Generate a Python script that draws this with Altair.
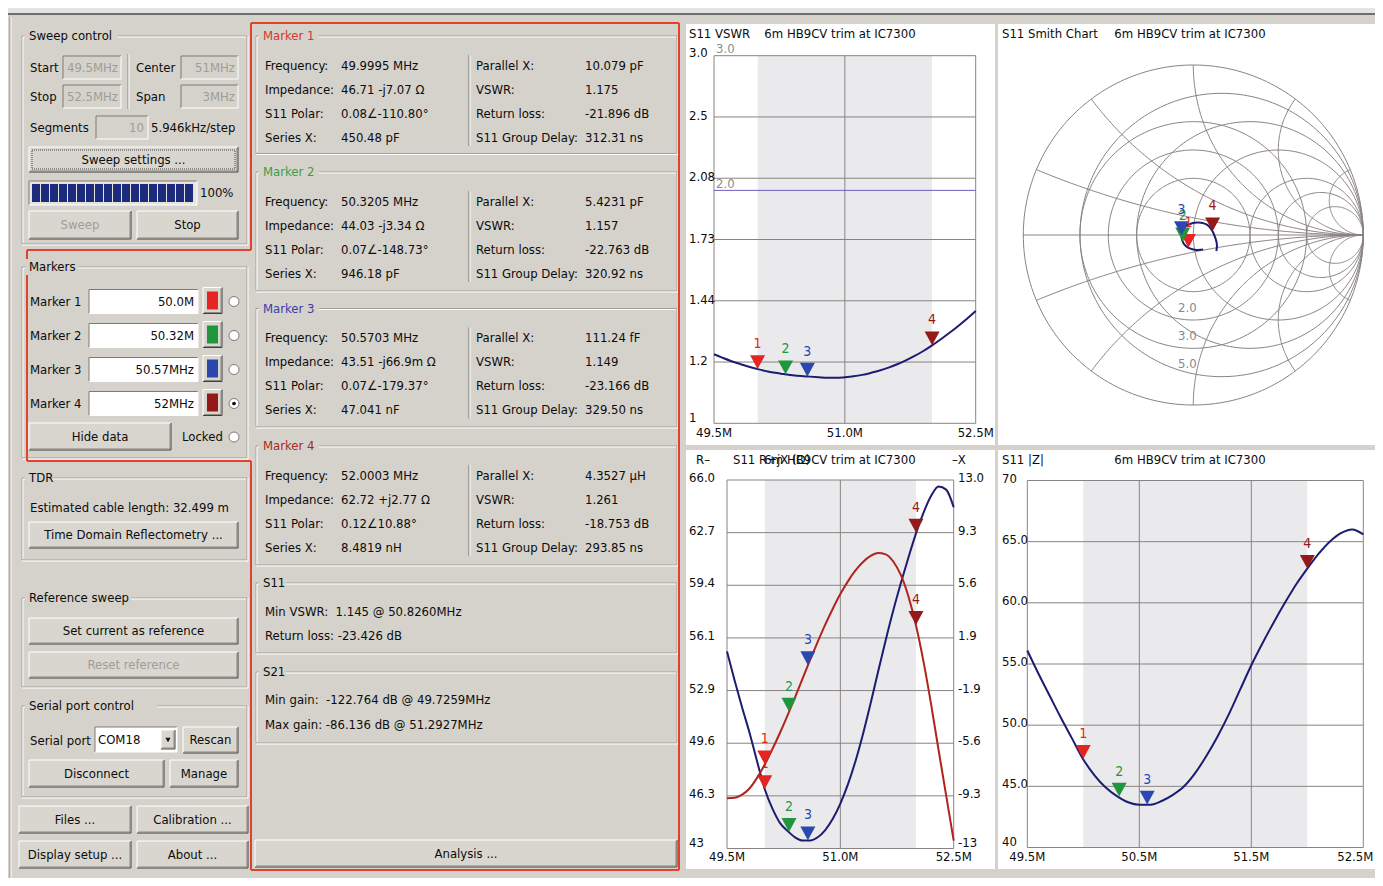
import altair as alt
import numpy as np
import pandas as pd

# ------------------------------------------------------------------ values
FREQ_MHZ = [49.5, 49.6, 49.7, 49.8, 49.9, 50.0, 50.1, 50.2, 50.3, 50.4, 50.5, 50.6, 50.7, 50.8, 50.9,
            51.0, 51.1, 51.2, 51.3, 51.4, 51.5, 51.6, 51.7, 51.8, 51.9, 52.0, 52.1, 52.2, 52.3, 52.4, 52.5]
VSWR = [1.228, 1.215, 1.203, 1.193, 1.183, 1.175, 1.168, 1.162, 1.158, 1.154, 1.151, 1.149, 1.147, 1.145, 1.145,
        1.147, 1.150, 1.155, 1.162, 1.170, 1.180, 1.192, 1.206, 1.222, 1.240, 1.261, 1.284, 1.309, 1.336, 1.365, 1.397]
R_OHM = [55.3, 53.5, 51.8, 50.2, 48.4, 46.7, 45.5, 44.6, 44.1, 43.7, 43.5, 43.5, 43.7, 44.15, 44.85,
         45.8, 47.0, 48.45, 50.15, 52.05, 54.05, 56.0, 57.85, 59.55, 61.15, 62.65, 63.95, 65.0, 65.6, 65.4, 64.3]
X_OHM = [-9.45, -9.42, -9.2, -8.75, -8.0, -7.07, -6.0, -4.85, -3.62, -2.33, -1.02, 0.3, 1.58, 2.8, 3.92,
         4.95, 5.85, 6.62, 7.22, 7.65, 7.85, 7.75, 7.25, 6.3, 4.8, 2.77, 0.2, -2.8, -6.05, -9.25, -12.45]
ZMAG = [56.1, 54.2, 52.4, 50.6, 48.9, 47.2, 45.9, 44.9, 44.2, 43.7, 43.5, 43.5, 43.8, 44.3, 45.0,
        46.1, 47.5, 49.1, 50.9, 52.9, 54.9, 56.7, 58.4, 60.0, 61.5, 62.8, 64.0, 65.0, 65.7, 66.0, 65.6]

MARKER_LABELS = ["1", "2", "3", "4"]
MARKER_FREQ = [49.9995, 50.3205, 50.5703, 52.0003]
MARKER_VSWR = [1.175, 1.157, 1.149, 1.261]
MARKER_R = [46.71, 44.03, 43.51, 62.72]
MARKER_X = [-7.07, -3.34, -0.0669, 2.77]
MARKER_ZMAG = [47.24, 44.16, 43.51, 62.78]
MARKER_FIELD_TXT = ["50.0M", "50.32M", "50.57MHz", "52MHz"]

M_TITLES = ["Marker 1", "Marker 2", "Marker 3", "Marker 4"]
LEFT_LABELS = ["Frequency:", "Impedance:", "S11 Polar:", "Series X:"]
RIGHT_LABELS = ["Parallel X:", "VSWR:", "Return loss:", "S11 Group Delay:"]
M_FREQ_TXT = ["49.9995 MHz", "50.3205 MHz", "50.5703 MHz", "52.0003 MHz"]
M_IMP_TXT = ["46.71 -j7.07 Ω", "44.03 -j3.34 Ω", "43.51 -j66.9m Ω", "62.72 +j2.77 Ω"]
M_POLAR_TXT = ["0.08∠-110.80°", "0.07∠-148.73°", "0.07∠-179.37°", "0.12∠10.88°"]
M_SERIES_TXT = ["450.48 pF", "946.18 pF", "47.041 nF", "8.4819 nH"]
M_PAR_TXT = ["10.079 pF", "5.4231 pF", "111.24 fF", "4.3527 µH"]
M_VSWR_TXT = ["1.175", "1.157", "1.149", "1.261"]
M_RL_TXT = ["-21.896 dB", "-22.763 dB", "-23.166 dB", "-18.753 dB"]
M_GD_TXT = ["312.31 ns", "320.92 ns", "329.50 ns", "293.85 ns"]

BAND_MHZ = [50.0, 52.0]
VSWR_TICKS = [2.985984, 2.48832, 2.0736, 1.728, 1.44, 1.2, 1.0]
VSWR_TICK_TXT = ["3.0", "2.5", "2.08", "1.73", "1.44", "1.2", "1"]
SWR_MARKERS = [2.0, 3.0, 5.0]
SWR_MARKER_TXT = ["2.0", "3.0", "5.0"]
FREQ_TICKS3 = [49.5, 51.0, 52.5]
FREQ_TICKS3_TXT = ["49.5M", "51.0M", "52.5M"]
FREQ_TICKS4 = [49.5, 50.5, 51.5, 52.5]
FREQ_TICKS4_TXT = ["49.5M", "50.5M", "51.5M", "52.5M"]
R_TICKS = [66.0, 62.714, 59.429, 56.143, 52.857, 49.571, 46.286, 43.0]
R_TICK_TXT = ["66.0", "62.7", "59.4", "56.1", "52.9", "49.6", "46.3", "43"]
X_TICKS = [13.0, 9.286, 5.571, 1.857, -1.857, -5.571, -9.286, -13.0]
X_TICK_TXT = ["13.0", "9.3", "5.6", "1.9", "-1.9", "-5.6", "-9.3", "-13"]
Z_TICKS = [70, 65, 60, 55, 50, 45, 40]
Z_TICK_TXT = ["70", "65.0", "60.0", "55.0", "50.0", "45.0", "40"]
SMITH_R = [0.2, 0.5, 1.0, 2.0, 3.0, 5.0]
SMITH_X = [0.2, 0.5, 1.0, 2.0, 5.0]

# ------------------------------------------------------------------ styles
OFF = 8
W, H = 1367, 870
FONT = "DejaVu Sans Condensed, Liberation Sans, Arial, sans-serif"
FS = 13
BG = "#d5d2cb"
TXT = "#0c0c0c"
DIS = "#a09d97"
WHT = "#ffffff"
ETCH = "#a3a09a"
RED = "#e2422c"
NAVY = "#1c1c70"
XRED = "#b0241c"
GRID = "#8a8282"
BAND_C = "#eaeaed"
SWR_C = "#6b5fc0"
MCOL = ["#e52424", "#1f963c", "#2a48ad", "#941a1a"]
M_TITLE_COL = ["#d8352b", "#3d9e48", "#3c3ca8", "#a82a26"]
TRI = "M -1 -1.85 L 1 -1.85 L 0 0 Z"

# ------------------------------------------------------------------ UI primitives
rects_a, rects_b, segs, texts = [], [], [], []
radios, dots, dotted, arrows = [], [], [], []


def rect(lst, x1, y1, x2, y2, fill, stroke="transparent"):
    lst.append(dict(x=x1, x2=x2, y=y1, y2=y2, fill=fill, stroke=stroke))


def seg(x1, y1, x2, y2, color, w=1.0):
    segs.append(dict(x=x1, x2=x2, y=y1, y2=y2, c=color, w=w))


def text(x, y, s, align="left", color=TXT, size=FS):
    texts.append(dict(x=x, y=y, s=s, a=align, c=color, fs=size))


def button(x1, y1, x2, y2, label="", color=TXT):
    rect(rects_a, x1, y1, x2, y2, "#d9d6cf")
    seg(x1, y1, x2, y1, WHT)
    seg(x1, y1, x1, y2, WHT)
    seg(x1, y2, x2, y2, "#404040")
    seg(x2, y1, x2, y2, "#404040")
    seg(x1 + 1, y2 - 1, x2 - 1, y2 - 1, "#8a8883")
    seg(x2 - 1, y1 + 1, x2 - 1, y2 - 1, "#8a8883")
    if label:
        text((x1 + x2) / 2, (y1 + y2) / 2, label, "center", color)


def field(x1, y1, x2, y2, fill):
    rect(rects_a, x1, y1, x2, y2, fill)
    seg(x1, y1, x2, y1, "#7c7a75")
    seg(x1, y1, x1, y2, "#7c7a75")
    seg(x1, y2, x2, y2, WHT)
    seg(x2, y1, x2, y2, WHT)


def group(x1, y1, x2, y2, title, tcolor=TXT):
    seg(x1, y1, x2, y1, ETCH)
    seg(x1, y1, x1, y2, ETCH)
    seg(x2, y1, x2, y2, ETCH)
    seg(x1, y2, x2, y2, ETCH)
    seg(x1 + 1, y1 + 1, x2 - 1, y1 + 1, WHT)
    seg(x1 + 1, y1 + 1, x1 + 1, y2 - 1, WHT)
    seg(x2 + 1, y1, x2 + 1, y2 + 1, WHT)
    seg(x1, y2 + 1, x2 + 1, y2 + 1, WHT)
    rect(rects_b, x1 + 3, y1 - 8, x1 + 10 + 6.6 * len(title), y1 + 8, BG)
    text(x1 + 7, y1, title, "left", tcolor)


# window chrome
rect(rects_a, 8, 8, 1375, 13, "#e3e3e3")
seg(8, 14, 1375, 14, "#6e6e6e", 2)
seg(10, 17, 10, 878, "#8a8a8a")
seg(11, 17, 11, 878, WHT)

# chart panels (white)
rect(rects_a, 686, 24, 995, 445, WHT)
rect(rects_a, 998, 24, 1383, 445, WHT)
rect(rects_a, 686, 450, 995, 869, WHT)
rect(rects_a, 998, 450, 1383, 869, WHT)

# ---- Sweep control
group(22, 36, 247, 244, "Sweep control")
text(30, 68, "Start")
field(63, 56, 121, 79, BG)
text(118, 68, "49.5MHz", "right", DIS)
seg(128, 54, 128, 109, "#8a8883")
seg(129, 54, 129, 109, WHT)
text(136, 68, "Center")
field(181, 56, 238, 79, BG)
text(235, 68, "51MHz", "right", DIS)
text(30, 97, "Stop")
field(63, 85, 121, 108, BG)
text(118, 97, "52.5MHz", "right", DIS)
text(136, 97, "Span")
field(181, 85, 238, 108, BG)
text(235, 97, "3MHz", "right", DIS)
text(30, 128, "Segments")
field(96, 116, 148, 139, BG)
text(144, 128, "10", "right", DIS)
text(151, 128, "5.946kHz/step")
button(29, 147, 238, 172, "Sweep settings ...")
dotted.append(dict(x=32, x2=235, y=150, y2=169))
field(29, 181, 197, 205, "#e6e4df")
for i in range(18):
    rect(rects_b, 32 + 9 * i, 184, 40 + 9 * i, 202, "#1d2b7e")
text(200, 193, "100%")
button(29, 211, 131, 239, "Sweep", DIS)
button(137, 211, 238, 239, "Stop")

# ---- Markers
group(22, 267, 247, 458, "Markers")
for i, yy in enumerate([301.5, 335.5, 369.5, 403.5]):
    text(30, yy, M_TITLES[i])
    field(89, yy - 12, 198, yy + 12, WHT)
    text(194, yy, MARKER_FIELD_TXT[i], "right")
    button(203, yy - 14, 222, yy + 12)
    rect(rects_b, 207, yy - 10, 218, yy + 8, MCOL[i])
    radios.append(dict(x=234, y=yy))
dots.append(dict(x=234, y=403.5))
button(29, 423, 171, 450, "Hide data")
text(182, 437, "Locked")
radios.append(dict(x=234, y=437))

# ---- TDR
group(22, 478, 247, 560, "TDR")
text(30, 508, "Estimated cable length: 32.499 m")
button(29, 522, 238, 548, "Time Domain Reflectometry ...")

# ---- Reference sweep
group(22, 598, 247, 687, "Reference sweep")
button(29, 618, 238, 644, "Set current as reference")
button(29, 652, 238, 678, "Reset reference", DIS)

# ---- Serial port control
group(22, 706, 247, 797, "Serial port control")
text(30, 741, "Serial port")
field(95, 727, 177, 752, WHT)
text(98, 740, "COM18")
button(161, 730, 175, 749)
arrows.append(dict(x=168, y=740))
button(183, 727, 238, 753, "Rescan")
button(29, 760, 164, 787, "Disconnect")
button(170, 760, 238, 787, "Manage")

# ---- bottom buttons
button(19, 806, 131, 833, "Files ...")
button(137, 806, 248, 833, "Calibration ...")
button(19, 841, 131, 868, "Display setup ...")
button(137, 841, 248, 868, "About ...")

# ---- middle panel: marker data
GROUP_TOP = [36, 172, 308.5, 446]
GROUP_BOT = [153.5, 291, 427, 565]
ROW_OFF = [29.5, 53.5, 77.5, 101.5]
for k in range(4):
    t = GROUP_TOP[k]
    group(256, t, 677, GROUP_BOT[k], M_TITLES[k], M_TITLE_COL[k])
    lvals = [M_FREQ_TXT[k], M_IMP_TXT[k], M_POLAR_TXT[k], M_SERIES_TXT[k]]
    rvals = [M_PAR_TXT[k], M_VSWR_TXT[k], M_RL_TXT[k], M_GD_TXT[k]]
    for j in range(4):
        yy = t + ROW_OFF[j]
        text(265, yy, LEFT_LABELS[j])
        text(341, yy, lvals[j])
        text(476, yy, RIGHT_LABELS[j])
        text(585, yy, rvals[j])
    seg(469, t + 19, 469, t + 110, "#6e6c68")
    seg(470, t + 19, 470, t + 110, WHT)

group(256, 583, 677, 653, "S11")
text(265, 612, "Min VSWR:\u00a0 1.145 @ 50.8260MHz")
text(265, 636, "Return loss: -23.426 dB")
group(256, 672, 677, 743, "S21")
text(265, 700, "Min gain:\u00a0 -122.764 dB @ 49.7259MHz")
text(265, 725, "Max gain: -86.136 dB @ 51.2927MHz")
button(255, 840, 677, 867, "Analysis ...")

# ---- red annotation outline
RED_PATH = [(251, 23), (679, 23), (679, 870), (251, 870), (251, 461), (27, 461), (27, 250), (251, 250), (251, 23)]
for (a, b), (c, d) in zip(RED_PATH[:-1], RED_PATH[1:]):
    seg(a, b, c, d, RED, 2)

# ---- chart titles
text(689, 34, "S11 VSWR")
text(840, 34, "6m HB9CV trim at IC7300", "center")
text(1002, 34, "S11 Smith Chart")
text(1190, 34, "6m HB9CV trim at IC7300", "center")
text(696, 460, "R–")
text(733, 460, "S11 R+jX (Ω)")
text(840, 460, "6m HB9CV trim at IC7300", "center")
text(952, 460, "–X")
text(1002, 460, "S11 |Z|")
text(1190, 460, "6m HB9CV trim at IC7300", "center")

# ------------------------------------------------------------------ UI layer
UX = alt.Scale(domain=[OFF, OFF + W], range=[0, W], nice=False, zero=False)
UY = alt.Scale(domain=[OFF, OFF + H], range=[0, H], nice=False, zero=False)


def ux(f="x"):
    return alt.X(f"{f}:Q", scale=UX, axis=None)


def uy(f="y"):
    return alt.Y(f"{f}:Q", scale=UY, axis=None)


def rect_layer(lst):
    return alt.Chart(pd.DataFrame(lst)).mark_rect(strokeWidth=1).encode(
        x=ux(), x2=alt.X2("x2:Q"), y=uy(), y2=alt.Y2("y2:Q"),
        fill=alt.Fill("fill:N", scale=None), stroke=alt.Stroke("stroke:N", scale=None))


ui_layers = [rect_layer(rects_a)]
ui_layers.append(alt.Chart(pd.DataFrame(segs)).mark_rule().encode(
    x=ux(), x2=alt.X2("x2:Q"), y=uy(), y2=alt.Y2("y2:Q"),
    color=alt.Color("c:N", scale=None), size=alt.Size("w:Q", scale=None)))
ui_layers.append(rect_layer(rects_b))
ui_layers.append(alt.Chart(pd.DataFrame(dotted)).mark_rect(
    fillOpacity=0, stroke="#444444", strokeWidth=1, strokeDash=[1, 1]).encode(
    x=ux(), x2=alt.X2("x2:Q"), y=uy(), y2=alt.Y2("y2:Q")))
ui_layers.append(alt.Chart(pd.DataFrame(radios)).mark_point(
    shape="circle", filled=True, fill=WHT, stroke="#7a7a7a", strokeWidth=1, size=100, opacity=1).encode(
    x=ux(), y=uy()))
ui_layers.append(alt.Chart(pd.DataFrame(dots)).mark_point(
    shape="circle", filled=True, color="#111111", size=14, opacity=1).encode(x=ux(), y=uy()))
ui_layers.append(alt.Chart(pd.DataFrame(arrows)).mark_point(
    shape="triangle-down", filled=True, color="#111111", size=26, opacity=1).encode(x=ux(), y=uy()))
tdf = pd.DataFrame(texts)
for al in ["left", "center", "right"]:
    sub = tdf[tdf["a"] == al]
    ui_layers.append(alt.Chart(sub).mark_text(align=al, baseline="middle", font=FONT).encode(
        x=ux(), y=uy(), text=alt.Text("s:N"),
        color=alt.Color("c:N", scale=None), size=alt.Size("fs:Q", scale=None)))
ui = alt.layer(*ui_layers)

# ------------------------------------------------------------------ helpers for data charts
mk = pd.DataFrame(dict(f=MARKER_FREQ, vswr=MARKER_VSWR, r=MARKER_R, xv=MARKER_X, z=MARKER_ZMAG,
                       lab=MARKER_LABELS, col=MCOL))


def band(xs, ys, y0, y1):
    df = pd.DataFrame(dict(a=[BAND_MHZ[0]], b=[BAND_MHZ[1]], c=[y0], d=[y1]))
    return alt.Chart(df).mark_rect(color=BAND_C).encode(
        x=alt.X("a:Q", scale=xs, axis=None), x2="b:Q",
        y=alt.Y("c:Q", scale=ys, axis=None), y2="d:Q")


def hrules(vals, x0, x1, xs, ys, color=GRID):
    df = pd.DataFrame(dict(v=vals, a=x0, b=x1))
    return alt.Chart(df).mark_rule(color=color, strokeWidth=1).encode(
        x=alt.X("a:Q", scale=xs, axis=None), x2="b:Q", y=alt.Y("v:Q", scale=ys, axis=None))


def vrules(vals, y0, y1, xs, ys):
    df = pd.DataFrame(dict(v=vals, a=y0, b=y1))
    return alt.Chart(df).mark_rule(color=GRID, strokeWidth=1).encode(
        x=alt.X("v:Q", scale=xs, axis=None), y=alt.Y("a:Q", scale=ys, axis=None), y2="b:Q")


def ylabels(vals, labels, xpix, ys, dys, color=TXT):
    df = pd.DataFrame(dict(v=vals, s=labels, d=dys))
    out = []
    for dv in sorted(set(dys)):
        sub = df[df["d"] == dv]
        out.append(alt.Chart(sub).mark_text(align="left", baseline="middle", font=FONT, fontSize=FS,
                                            color=color, dy=dv).encode(
            x=alt.value(xpix - OFF), y=alt.Y("v:Q", scale=ys, axis=None), text="s:N"))
    return out


def xlabels(vals, labels, ypix, xs, dxs):
    df = pd.DataFrame(dict(v=vals, s=labels, d=dxs))
    out = []
    for dv in sorted(set(dxs)):
        sub = df[df["d"] == dv]
        out.append(alt.Chart(sub).mark_text(align="center", baseline="middle", font=FONT, fontSize=FS,
                                            color=TXT, dx=dv).encode(
            x=alt.X("v:Q", scale=xs, axis=None), y=alt.value(ypix - OFF), text="s:N"))
    return out


def curve(xvals, yvals, xs, ys, color):
    df = pd.DataFrame(dict(f=xvals, v=yvals))
    return alt.Chart(df).mark_line(color=color, strokeWidth=2, interpolate="monotone").encode(
        x=alt.X("f:Q", scale=xs, axis=None), y=alt.Y("v:Q", scale=ys, axis=None))


def markers(df, xf, yf, xs, ys):
    out = []
    for k in list(df["lab"]):
        sub = df[df["lab"] == k]
        enc = dict(x=alt.X(f"{xf}:Q", scale=xs, axis=None), y=alt.Y(f"{yf}:Q", scale=ys, axis=None),
                   color=alt.Color("col:N", scale=None))
        out.append(alt.Chart(sub).mark_point(shape=TRI, filled=True, size=225, opacity=1).encode(**enc))
        out.append(alt.Chart(sub).mark_text(dy=-25, fontSize=14, font=FONT, align="center",
                                            baseline="middle").encode(text="lab:N", **enc))
    return out


# ------------------------------------------------------------------ VSWR chart
xs_v = alt.Scale(domain=[49.5, 52.5], range=[714 - OFF, 975.7 - OFF], nice=False, zero=False)
ys_v = alt.Scale(type="log", domain=[1.0, 2.985984], range=[423.3 - OFF, 55.7 - OFF], nice=False)
vswr = alt.layer(
    band(xs_v, ys_v, 1.0, 2.985984),
    hrules(VSWR_TICKS, 49.5, 52.5, xs_v, ys_v),
    vrules(FREQ_TICKS3, 1.0, 2.985984, xs_v, ys_v),
    hrules([SWR_MARKERS[0]], 49.5, 52.5, xs_v, ys_v, SWR_C),
    *ylabels(VSWR_TICKS, VSWR_TICK_TXT, 689, ys_v, [-3, -1, -1, -1, -1, -1, -5]),
    *ylabels([3.0, 2.0], ["3.0", "2.0"], 716, ys_v, [-5, -6], color="#8c8c8c"),
    *xlabels(FREQ_TICKS3, FREQ_TICKS3_TXT, 433, xs_v, [0, 0, 0]),
    curve(FREQ_MHZ, VSWR, xs_v, ys_v, NAVY),
    *markers(mk, "f", "vswr", xs_v, ys_v),
)

# ------------------------------------------------------------------ Smith chart
xs_s = alt.Scale(domain=[-1, 1], range=[1023.3 - OFF, 1363.3 - OFF], nice=False, zero=False)
ys_s = alt.Scale(domain=[-1, 1], range=[405 - OFF, 65 - OFF], nice=False, zero=False)

grid_rows = []
gid = 0


def add_pts(px, py):
    global gid
    for i, (a, b) in enumerate(zip(px, py)):
        grid_rows.append(dict(gx=float(a), gy=float(b), gid=gid, i=i))
    gid += 1


t_full = np.linspace(0, 2 * np.pi, 241)
for rr in [0.0] + SMITH_R:
    c, rad = rr / (1 + rr), 1 / (1 + rr)
    add_pts(c + rad * np.cos(t_full), rad * np.sin(t_full))
for s in SWR_MARKERS:
    g = (s - 1) / (s + 1)
    add_pts(g * np.cos(t_full), g * np.sin(t_full))
for xx in SMITH_X:
    for sg in (1, -1):
        cy, rad = sg / xx, 1 / xx
        px_, py_ = (xx * xx - 1) / (xx * xx + 1), sg * 2 * xx / (xx * xx + 1)
        th0 = -sg * np.pi / 2
        th1 = np.arctan2(py_ - cy, px_ - 1)
        if sg == 1:
            while th1 > th0:
                th1 -= 2 * np.pi
        else:
            while th1 < th0:
                th1 += 2 * np.pi
        th = np.linspace(th0, th1, 160)
        add_pts(1 + rad * np.cos(th), cy + rad * np.sin(th))
grid_df = pd.DataFrame(grid_rows)

zc = np.array(R_OHM) + 1j * np.array(X_OHM)
gam = (zc - 50) / (zc + 50)
trace_df = pd.DataFrame(dict(gx=gam.real, gy=gam.imag, i=range(len(gam))))
zm = np.array(MARKER_R) + 1j * np.array(MARKER_X)
gm = (zm - 50) / (zm + 50)
mk_s = mk.copy()
mk_s["gx"] = gm.real
mk_s["gy"] = gm.imag
swr_c_df = pd.DataFrame(dict(gx=[0.0] * 3, gy=[-(s - 1) / (s + 1) for s in SWR_MARKERS], s=SWR_MARKER_TXT))

smith = alt.layer(
    alt.Chart(grid_df).mark_line(color=GRID, strokeWidth=1).encode(
        x=alt.X("gx:Q", scale=xs_s, axis=None), y=alt.Y("gy:Q", scale=ys_s, axis=None),
        detail="gid:N", order="i:Q"),
    alt.Chart(pd.DataFrame(dict(a=[-1.0], b=[1.0], c=[0.0]))).mark_rule(color=GRID, strokeWidth=1).encode(
        x=alt.X("a:Q", scale=xs_s, axis=None), x2="b:Q", y=alt.Y("c:Q", scale=ys_s, axis=None)),
    alt.Chart(swr_c_df).mark_text(font=FONT, fontSize=FS, color="#8a8794", dy=16, dx=-6).encode(
        x=alt.X("gx:Q", scale=xs_s, axis=None), y=alt.Y("gy:Q", scale=ys_s, axis=None), text="s:N"),
    alt.Chart(trace_df).mark_line(color=NAVY, strokeWidth=2, interpolate="cardinal").encode(
        x=alt.X("gx:Q", scale=xs_s, axis=None), y=alt.Y("gy:Q", scale=ys_s, axis=None), order="i:Q"),
    *markers(mk_s, "gx", "gy", xs_s, ys_s),
)

# ------------------------------------------------------------------ R + jX chart
xs_rx = alt.Scale(domain=[49.5, 52.5], range=[727 - OFF, 953.7 - OFF], nice=False, zero=False)
ys_r = alt.Scale(domain=[43, 66], range=[848.5 - OFF, 480 - OFF], nice=False, zero=False)
ys_x = alt.Scale(domain=[-13, 13], range=[848.5 - OFF, 480 - OFF], nice=False, zero=False)
rx_r = alt.layer(
    band(xs_rx, ys_r, 43, 66),
    hrules(R_TICKS, 49.5, 52.5, xs_rx, ys_r),
    vrules(FREQ_TICKS3, 43, 66, xs_rx, ys_r),
    *ylabels(R_TICKS, R_TICK_TXT, 689, ys_r, [-2, -2, -2, -2, -2, -2, -2, -6]),
    *xlabels(FREQ_TICKS3, FREQ_TICKS3_TXT, 857, xs_rx, [0, 0, 0]),
    curve(FREQ_MHZ, R_OHM, xs_rx, ys_r, NAVY),
    *markers(mk, "f", "r", xs_rx, ys_r),
)
rx_x = alt.layer(
    *ylabels(X_TICKS, X_TICK_TXT, 958, ys_x, [-2, -2, -2, -2, -2, -2, -2, -6]),
    curve(FREQ_MHZ, X_OHM, xs_rx, ys_x, XRED),
    *markers(mk, "f", "xv", xs_rx, ys_x),
)

# ------------------------------------------------------------------ |Z| chart
xs_z = alt.Scale(domain=[49.5, 52.5], range=[1027.3 - OFF, 1363.3 - OFF], nice=False, zero=False)
ys_z = alt.Scale(domain=[40, 70], range=[847.5 - OFF, 480.5 - OFF], nice=False, zero=False)
zchart = alt.layer(
    band(xs_z, ys_z, 40, 70),
    hrules(Z_TICKS, 49.5, 52.5, xs_z, ys_z),
    vrules(FREQ_TICKS4, 40, 70, xs_z, ys_z),
    *ylabels(Z_TICKS, Z_TICK_TXT, 1002, ys_z, [-2, -2, -2, -2, -2, -2, -6]),
    *xlabels(FREQ_TICKS4, FREQ_TICKS4_TXT, 857, xs_z, [0, 0, 0, -8]),
    curve(FREQ_MHZ, ZMAG, xs_z, ys_z, NAVY),
    *markers(mk, "f", "z", xs_z, ys_z),
)

chart = alt.layer(ui, vswr, smith, rx_r, rx_x, zchart).resolve_scale(
    x="independent", y="independent"
).properties(
    width=W, height=H, background=BG, padding=0,
    autosize=alt.AutoSizeParams(type="none"),
).configure_view(strokeWidth=0)

chart.save("out.html", embed_options={"renderer": "svg", "actions": False})
